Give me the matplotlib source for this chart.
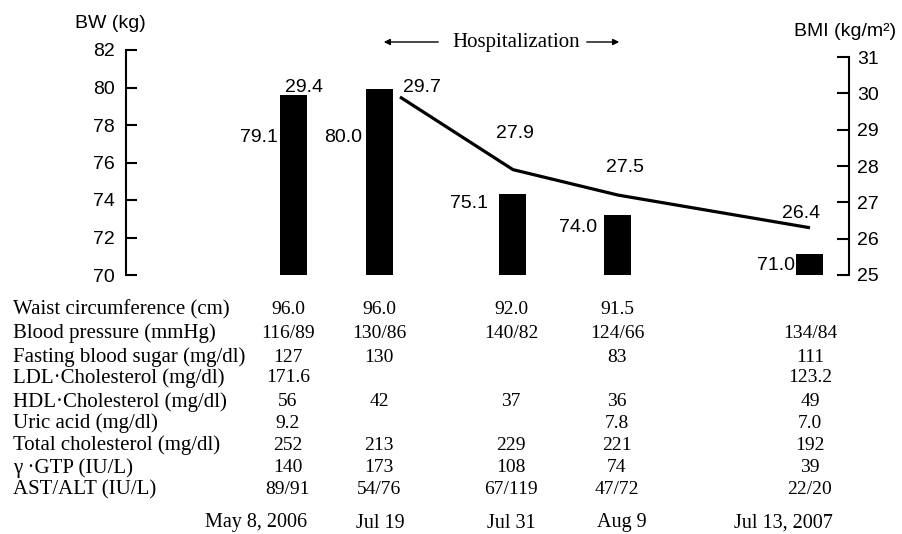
import matplotlib.pyplot as plt

# data
dates = ['May 8, 2006', 'Jul 19', 'Jul 31', 'Aug 9', 'Jul 13, 2007']
bw_bar = [79.6, 79.9, 74.3, 73.2, 71.1]          # bar tops as drawn
bw_labels = ['79.1', '80.0', '75.1', '74.0', '71.0']
bmi_line = [29.9, 27.9, 27.2, 26.3]                # line drawn from Jul 19 on
bmi_labels = ['29.4', '29.7', '27.9', '27.5', '26.4']

row_names = ['Waist circumference (cm)', 'Blood pressure (mmHg)',
             'Fasting blood sugar (mg/dl)', 'LDL\u00b7Cholesterol (mg/dl)',
             'HDL\u00b7Cholesterol (mg/dl)', 'Uric acid (mg/dl)',
             'Total cholesterol (mg/dl)', '\u03b3 \u00b7GTP (IU/L)', 'AST/ALT (IU/L)']
waist = ['96.0', '96.0', '92.0', '91.5', '']
bp = ['116/89', '130/86', '140/82', '124/66', '134/84']
fbs = ['127', '130', '', '83', '111']
ldl = ['171.6', '', '', '', '123.2']
hdl = ['56', '42', '37', '36', '49']
uric = ['9.2', '', '', '7.8', '7.0']
tchol = ['252', '213', '229', '221', '192']
ggtp = ['140', '173', '108', '74', '39']
ast_alt = ['89/91', '54/76', '67/119', '47/72', '22/20']
table = [waist, bp, fbs, ldl, hdl, uric, tchol, ggtp, ast_alt]

# layout (pixel coordinates of the 903x534 canvas)
W, H = 903, 534
col_x = [294, 380, 513, 618, 810]
text_x = [288, 379, 511, 617, 810]
date_x = [256, 380, 511, 622, 783]
row_y = [310, 333, 357, 378, 402, 423, 445, 468, 490]
date_y = 523
line_x = [400] + col_x[2:]
bw_lab_pos = [(278, 138), (362, 138), (488, 203), (597, 227), (795, 265)]
bmi_lab_pos = [(304, 88), (422, 88), (515, 133), (625, 167), (801, 213)]

sans = 'Liberation Sans'
serif = 'Liberation Serif'

fig = plt.figure(figsize=(W / 100, H / 100), dpi=100)
ax_l, ax_r, ax_t, ax_b = 126, 849, 50, 275
ax = fig.add_axes([ax_l / W, 1 - ax_b / H, (ax_r - ax_l) / W, (ax_b - ax_t) / H])
ax.set_xlim(ax_l, ax_r)
ax.set_ylim(70, 82)
ax.bar(col_x, [v - 70 for v in bw_bar], bottom=70, width=27, color='black')

ax2 = ax.twinx()
ax2.set_ylim(25, 25 + (ax_b - ax_t) / 36.33)
ax2.plot(line_x, bmi_line, color='black', lw=2.3, solid_capstyle='butt')

for a in (ax, ax2):
    for s in ['top', 'bottom']:
        a.spines[s].set_visible(False)
    a.set_xticks([])
ax.spines['right'].set_visible(False)
ax2.spines['left'].set_visible(False)
ax.spines['left'].set_linewidth(1.5)
ax2.spines['right'].set_linewidth(1.5)
ax2.spines['right'].set_bounds(25, 31)
ax.set_yticks(range(70, 83, 2))
ax2.set_yticks(range(25, 32))
ax.tick_params(axis='y', direction='in', length=8, width=1.5, pad=8, labelsize=14)
ax2.tick_params(axis='y', direction='in', length=9, width=1.5, pad=6, labelsize=14)
for lab in ax.get_yticklabels() + ax2.get_yticklabels():
    lab.set_family(sans)

# overlay in pixel coordinates for all texts
ov = fig.add_axes([0, 0, 1, 1])
ov.set_xlim(0, W)
ov.set_ylim(H, 0)
ov.axis('off')
ov.patch.set_alpha(0)

ov.text(110, 23, 'BW (kg)', family=sans, fontsize=14, ha='center', va='center')
ov.text(845, 31, 'BMI (kg/m\u00b2)', family=sans, fontsize=14, ha='center', va='center')

ov.text(516, 42, 'Hospitalization', family=serif, fontsize=15, ha='center', va='center')
ov.annotate('', xy=(381, 42), xytext=(441, 42),
            arrowprops=dict(arrowstyle='-|>', color='black', lw=1, mutation_scale=9))
ov.annotate('', xy=(622, 42), xytext=(584, 42),
            arrowprops=dict(arrowstyle='-|>', color='black', lw=1, mutation_scale=9))

for lab, (x, y) in zip(bw_labels, bw_lab_pos):
    ov.text(x, y, lab, family=sans, fontsize=14, ha='right', va='center')
for lab, (x, y) in zip(bmi_labels, bmi_lab_pos):
    ov.text(x, y, lab, family=sans, fontsize=14, ha='center', va='center')

for name, vals, y in zip(row_names, table, row_y):
    ov.text(13, y, name, family=serif, fontsize=15, ha='left', va='center')
    for v, x in zip(vals, text_x):
        ov.text(x, y, v, family=serif, fontsize=14, ha='center', va='center')
for d, x in zip(dates, date_x):
    ov.text(x, date_y, d, family=serif, fontsize=14.5, ha='center', va='center')

fig.savefig('out.png', dpi=100)
